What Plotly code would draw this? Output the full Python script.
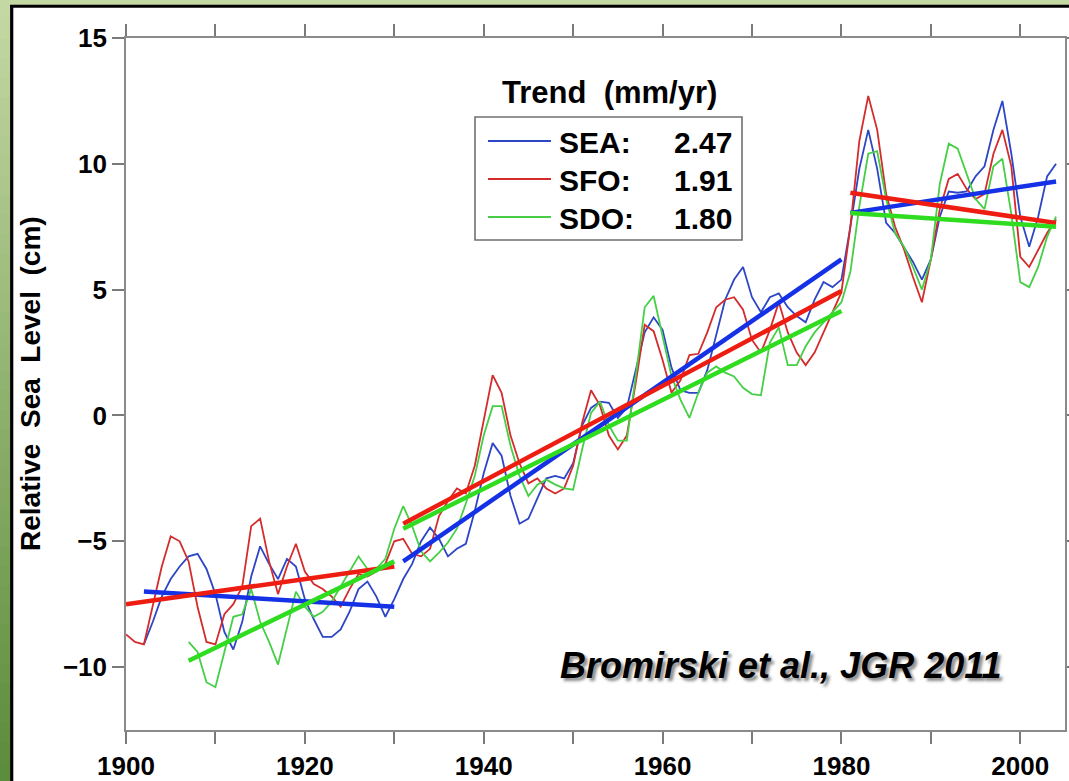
import plotly.graph_objects as go

# ---------------- data ----------------
sea_start = 1902
sea_vals = [
    -9.1, -8.2, -7.2, -6.5, -6.0, -5.6, -5.5, -6.1, -7.1, -8.6,   # 1902-1911
    -9.3, -8.2, -6.4, -5.2, -5.9, -6.5, -5.7, -6.0, -7.3, -8.1,   # 1912-1921
    -8.8, -8.8, -8.5, -7.8, -6.9, -6.6, -7.2, -8.0, -7.3, -6.5,   # 1922-1931
    -5.9, -5.0, -4.45, -4.9, -5.6, -5.3, -5.1, -3.8, -2.3, -1.1,  # 1932-1941
    -1.6, -3.2, -4.3, -4.1, -3.3, -2.5, -2.4, -2.5, -1.9, -0.4,   # 1942-1951
    0.3, 0.55, 0.5, -0.1, 0.3, 1.8, 3.3, 3.9, 3.4, 1.9,           # 1952-1961
    1.0, 0.9, 0.9, 1.8, 3.2, 4.6, 5.4, 5.9, 4.7, 4.1,             # 1962-1971
    4.7, 4.85, 4.3, 3.95, 3.7, 4.6, 5.3, 5.1, 5.4, 7.5,           # 1972-1981
    9.8, 11.35, 9.8, 7.65, 7.25, 6.7, 6.1, 5.4, 6.2, 7.9,         # 1982-1991
    8.9, 8.85, 8.9, 9.5, 9.9, 11.35, 12.5, 10.4, 7.9, 6.7,        # 1992-2001
    7.9, 9.5, 10.0,                                               # 2002-2004
]
sfo_start = 1900
sfo_vals = [
    -8.7, -9.0, -9.1, -7.6, -6.0, -4.8, -5.0, -5.8, -7.6, -9.0,   # 1900-1909
    -9.1, -7.9, -7.5, -6.8, -4.4, -4.1, -5.8, -7.1, -6.0, -5.1,   # 1910-1919
    -6.2, -6.7, -6.9, -7.2, -7.6, -6.9, -6.3, -6.4, -6.2, -5.9,   # 1920-1929
    -5.0, -4.9, -5.5, -5.6, -5.3, -4.0, -3.4, -2.9, -3.1, -2.0,   # 1930-1939
    -0.2, 1.6, 0.9, -0.8, -1.9, -2.7, -2.5, -2.9, -3.1, -2.9,     # 1940-1949
    -2.0, -0.3, 1.0, 0.4, -0.8, -1.35, -0.8, 1.3, 3.6, 3.35,      # 1950-1959
    2.2, 0.9, 1.4, 2.4, 2.45, 3.3, 4.3, 4.6, 4.7, 4.2,            # 1960-1969
    3.0, 2.5, 3.4, 4.5, 3.3, 2.5, 2.0, 2.5, 3.3, 4.1,             # 1970-1979
    4.9, 7.5, 10.9, 12.7, 11.35, 8.8, 7.5, 6.6, 5.5, 4.5,         # 1980-1989
    6.2, 8.2, 9.4, 9.6, 9.0, 8.6, 8.8, 10.4, 11.35, 9.9,          # 1990-1999
    6.3, 5.9, 6.6, 7.25, 7.8,                                     # 2000-2004
]
sdo_start = 1907
sdo_vals = [
    -9.0, -9.4, -10.6,                                            # 1907-1909
    -10.8, -9.4, -8.0, -7.9, -6.9, -8.2, -9.0, -9.9, -8.4, -7.0,  # 1910-1919
    -7.6, -8.0, -7.8, -7.4, -6.8, -6.2, -5.6, -6.1, -6.1, -5.7,   # 1920-1929
    -4.5, -3.6, -4.4, -5.4, -5.8, -5.45, -5.05, -4.5, -3.5, -2.4, # 1930-1939
    -0.8, 0.37, 0.37, -1.2, -2.4, -3.2, -2.75, -2.55, -2.75, -2.9,# 1940-1949
    -2.95, -1.35, 0.1, 0.55, -0.4, -1.0, -1.0, 1.55, 4.3, 4.75,   # 1950-1959
    3.2, 1.56, 0.63, -0.1, 0.9, 1.7, 1.95, 1.7, 1.55, 1.1,        # 1960-1969
    0.85, 0.8, 2.9, 3.5, 2.0, 2.0, 2.75, 3.3, 3.7, 4.1,           # 1970-1979
    4.5, 5.7, 8.3, 10.4, 10.5, 8.6, 7.25, 6.7, 5.9, 5.0,          # 1980-1989
    6.2, 9.2, 10.8, 10.6, 9.6, 8.6, 8.2, 9.9, 10.2, 8.0,          # 1990-1999
    5.3, 5.1, 5.9, 7.1, 7.9,                                      # 2000-2004
]
sea_years = list(range(sea_start, sea_start + len(sea_vals)))
sfo_years = list(range(sfo_start, sfo_start + len(sfo_vals)))
sdo_years = list(range(sdo_start, sdo_start + len(sdo_vals)))
assert sea_years[-1] == 2004 and sfo_years[-1] == 2004 and sdo_years[-1] == 2004

# piecewise trend segments
sea_trend_years = [1902, 1930, None, 1931, 1980, None, 1981, 2004]
sea_trend_vals = [-7.0, -7.6, None, -5.8, 6.2, None, 8.05, 9.3]
sfo_trend_years = [1900, 1930, None, 1931, 1980, None, 1981, 2004]
sfo_trend_vals = [-7.5, -6.0, None, -4.3, 4.95, None, 8.85, 7.65]
sdo_trend_years = [1907, 1930, None, 1931, 1980, None, 1981, 2004]
sdo_trend_vals = [-9.75, -5.8, None, -4.5, 4.15, None, 8.05, 7.5]

station_names = ["SEA:", "SFO:", "SDO:"]
trend_rates = ["2.47", "1.91", "1.80"]
legend_title = "Trend  (mm/yr)"
y_title = "Relative  Sea  Level  (cm)"
credit = "Bromirski et al., JGR 2011"
x_tick_vals = list(range(1900, 2001, 10))
x_tick_text = ["1900", "", "1920", "", "1940", "", "1960", "", "1980", "", "2000"]
y_tick_vals = [-10, -5, 0, 5, 10, 15]

# ---------------- styling ----------------
thin_colors = ["#2d46c6", "#d42b2b", "#46cf46"]
trend_colors = ["#1531e6", "#ee1d12", "#30dc20"]
FONT = "Liberation Sans, Arial, Helvetica, sans-serif"

W, H = 1069, 781
ML, MR, MT, MB = 126, 4, 38, 51
PW, PH = W - ML - MR, H - MT - MB


def fx(p):
    return (p - ML) / PW


def fy(p):
    return (H - MB - p) / PH


fig = go.Figure()
for yrs, vals, c in [(sea_years, sea_vals, thin_colors[0]),
                     (sfo_years, sfo_vals, thin_colors[1]),
                     (sdo_years, sdo_vals, thin_colors[2])]:
    fig.add_trace(go.Scatter(x=yrs, y=vals, mode="lines",
                             line=dict(color=c, width=1.8), showlegend=False))
for yrs, vals, c in [(sea_trend_years, sea_trend_vals, trend_colors[0]),
                     (sfo_trend_years, sfo_trend_vals, trend_colors[1]),
                     (sdo_trend_years, sdo_trend_vals, trend_colors[2])]:
    fig.add_trace(go.Scatter(x=yrs, y=vals, mode="lines",
                             line=dict(color=c, width=4.5), showlegend=False,
                             connectgaps=False))

shapes = []
# green frame with vertical gradient on the left strip
top_c = (0xC4, 0xD8, 0xA4)
bot_c = (0x5C, 0x8D, 0x3C)
N = 40
for i in range(N):
    t = i / (N - 1)
    col = "rgb(%d,%d,%d)" % tuple(int(top_c[k] + (bot_c[k] - top_c[k]) * t) for k in range(3))
    y0 = H * i / N
    y1 = H * (i + 1) / N + 1
    shapes.append(dict(type="rect", xref="paper", yref="paper",
                       x0=fx(0), x1=fx(10.5), y0=fy(y1), y1=fy(y0),
                       fillcolor=col, line=dict(width=0), layer="below"))
shapes.append(dict(type="rect", xref="paper", yref="paper",
                   x0=fx(0), x1=fx(W), y0=fy(5.5), y1=fy(0),
                   fillcolor="rgb(196,216,164)", line=dict(width=0), layer="below"))
# black frame lines
shapes.append(dict(type="line", xref="paper", yref="paper",
                   x0=fx(11.7), x1=fx(11.7), y0=fy(H), y1=fy(5),
                   line=dict(color="black", width=3.2), layer="below"))
shapes.append(dict(type="line", xref="paper", yref="paper",
                   x0=fx(10), x1=fx(W), y0=fy(6.3), y1=fy(6.3),
                   line=dict(color="black", width=3), layer="below"))

# legend box
shapes.append(dict(type="rect", xref="paper", yref="paper",
                   x0=fx(475), x1=fx(742), y0=fy(240), y1=fy(117),
                   fillcolor="white", line=dict(color="#707070", width=1.6)))
rows = [141, 179, 217]
annotations = []
for i in range(3):
    shapes.append(dict(type="line", xref="paper", yref="paper",
                       x0=fx(488), x1=fx(551), y0=fy(rows[i]), y1=fy(rows[i]),
                       line=dict(color=thin_colors[i], width=2)))
    annotations.append(dict(xref="paper", yref="paper", x=fx(557), y=fy(rows[i] + 1),
                            text=station_names[i], showarrow=False,
                            xanchor="left", yanchor="middle",
                            font=dict(family=FONT, size=30, color="black", weight="bold")))
    annotations.append(dict(xref="paper", yref="paper", x=fx(734), y=fy(rows[i] + 1),
                            text=trend_rates[i], showarrow=False,
                            xanchor="right", yanchor="middle",
                            font=dict(family=FONT, size=30, color="black", weight="bold")))

annotations.append(dict(xref="paper", yref="paper", x=fx(609), y=fy(92),
                        text=legend_title, showarrow=False,
                        xanchor="center", yanchor="middle",
                        font=dict(family=FONT, size=31, color="black", weight="bold")))
annotations.append(dict(xref="paper", yref="paper", x=fx(30), y=fy(384),
                        text=y_title, showarrow=False, textangle=-90,
                        xanchor="center", yanchor="middle",
                        font=dict(family=FONT, size=28, color="black", weight="bold")))
annotations.append(dict(xref="paper", yref="paper", x=fx(1004), y=fy(665),
                        text=credit, showarrow=False,
                        xanchor="right", yanchor="middle",
                        font=dict(family=FONT, size=36, color="black", weight="bold",
                                  style="italic",
                                  shadow="3px 3px 3px rgba(0,0,0,0.45)")))

axis_common = dict(showline=True, linecolor="#8a8a8a", linewidth=1.6,
                   ticks="outside", ticklen=12, tickwidth=1.5, tickcolor="#7a7a7a",
                   mirror="ticks", showgrid=False, zeroline=False, automargin=False,
                   tickfont=dict(family=FONT, size=26, color="black", weight="bold"))

fig.update_layout(
    width=W, height=H,
    margin=dict(l=ML, r=MR, t=MT, b=MB, autoexpand=False),
    paper_bgcolor="white", plot_bgcolor="white",
    xaxis=dict(range=[1900, 2005], tickmode="array", tickvals=x_tick_vals,
               ticktext=x_tick_text, **axis_common),
    yaxis=dict(range=[-12.5, 15], tickmode="array", tickvals=y_tick_vals,
               **axis_common),
    shapes=shapes, annotations=annotations, showlegend=False,
)

fig.write_html("out.html")
